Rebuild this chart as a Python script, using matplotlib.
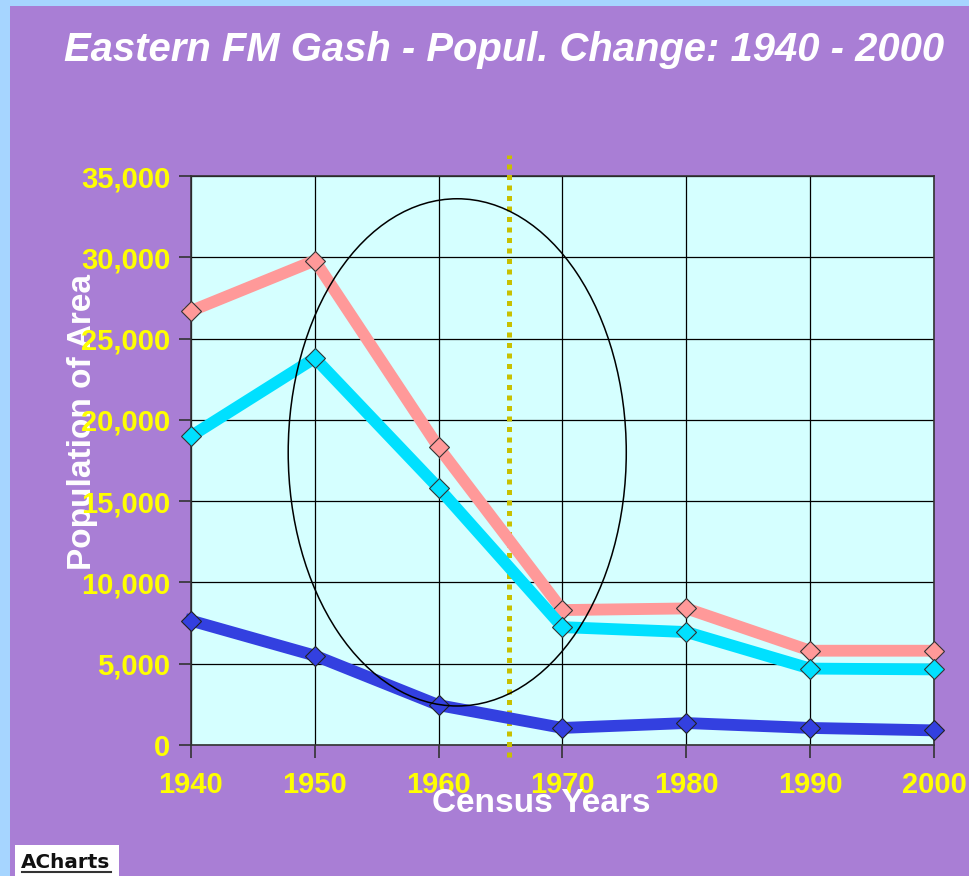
import matplotlib.pyplot as plt
from matplotlib.patches import Ellipse, Rectangle
from matplotlib.lines import Line2D

# Census data
years = [1940, 1950, 1960, 1970, 1980, 1990, 2000]
total = [26700, 29800, 18300, 8300, 8400, 5800, 5800]
rural = [19000, 23800, 15800, 7250, 6950, 4700, 4650]
town = [7650, 5500, 2450, 1050, 1350, 1050, 900]
tick_vals = [0, 5000, 10000, 15000, 20000, 25000, 30000, 35000]
marker_year = 1965.65

plt.rcParams['font.family'] = ['Liberation Sans', 'DejaVu Sans']

fig = plt.figure(figsize=(9.7, 8.76), dpi=100)
fig.patch.set_facecolor('#A6D5FF')
# purple panel inside the light blue border
fig.patches.append(Rectangle((10 / 970, 0), 1, 1 - 6 / 876, transform=fig.transFigure,
                             facecolor='#A97ED5', edgecolor='none', zorder=-10))

ax = fig.add_axes([191 / 970, 1 - 745 / 876, (934 - 191) / 970, (745 - 176) / 876])
ax.set_facecolor('#D5FFFF')

ax.plot(years, total, color='#FF9999', lw=8.5, marker='D', ms=10,
        mfc='#FF9999', mec='#333333', mew=0.8, zorder=4, clip_on=False)
ax.plot(years, rural, color='#00E0FF', lw=8.5, marker='D', ms=10,
        mfc='#00E0FF', mec='#333333', mew=0.8, zorder=4, clip_on=False)
ax.plot(years, town, color='#3340E0', lw=8.5, marker='D', ms=10,
        mfc='#3340E0', mec='#222222', mew=0.8, zorder=4, clip_on=False)

ax.set_xlim(1940, 2000)
ax.set_ylim(0, 35000)
ax.set_xticks(years)
ax.set_yticks(tick_vals)
ax.set_yticklabels([f'{v:,}' for v in tick_vals])
ax.grid(True, color='black', lw=0.9)
ax.set_axisbelow(True)
for s in ax.spines.values():
    s.set_color('#333333')
    s.set_linewidth(1.2)

ax.tick_params(axis='both', colors='#333333', length=9, width=1.2, direction='out')
ax.tick_params(axis='x', labelcolor='yellow', labelsize=21, pad=10)
ax.tick_params(axis='y', labelcolor='yellow', labelsize=21, pad=6)
for lab in ax.get_xticklabels() + ax.get_yticklabels():
    lab.set_fontweight('bold')

# dotted vertical marker
ax.plot([marker_year, marker_year], [-750, 36300], color='#C8C000', lw=3.6,
        ls=(0, (1, 1.1)), zorder=3, clip_on=False)

# ellipse highlighting the decline
ell = Ellipse((1961.5, 18000), 27.3, 31200, facecolor='none', edgecolor='black',
              lw=1.1, zorder=5, clip_on=False)
ax.add_patch(ell)

fig.text(0.52, 1 - 50 / 876, 'Eastern FM Gash - Popul. Change: 1940 - 2000',
         color='white', fontsize=28.8, fontweight='bold', fontstyle='italic',
         ha='center', va='center')
fig.text(541 / 970, 1 - 804 / 876, 'Census Years', color='white', fontsize=24,
         fontweight='bold', ha='center', va='center', zorder=5)
fig.text(83 / 970, 1 - 422 / 876, 'Population of Area', color='white', fontsize=24,
         fontweight='bold', ha='center', va='center', rotation=90, zorder=-5)

# ACharts badge
fig.patches.append(Rectangle((15 / 970, 0), 104 / 970, 31 / 876, transform=fig.transFigure,
                             facecolor='white', edgecolor='none', zorder=1))
fig.text(66 / 970, 1 - 862 / 876, 'ACharts', color='#111111', fontsize=14.4,
         family=['DejaVu Sans'], fontweight='bold', ha='center', va='center', zorder=2)
fig.lines.append(Line2D([22 / 970, 111 / 970], [1 - 872 / 876, 1 - 872 / 876],
                        transform=fig.transFigure, color='#333333', lw=1.5, zorder=2))

fig.savefig('out.png', dpi=100, facecolor=fig.get_facecolor())
